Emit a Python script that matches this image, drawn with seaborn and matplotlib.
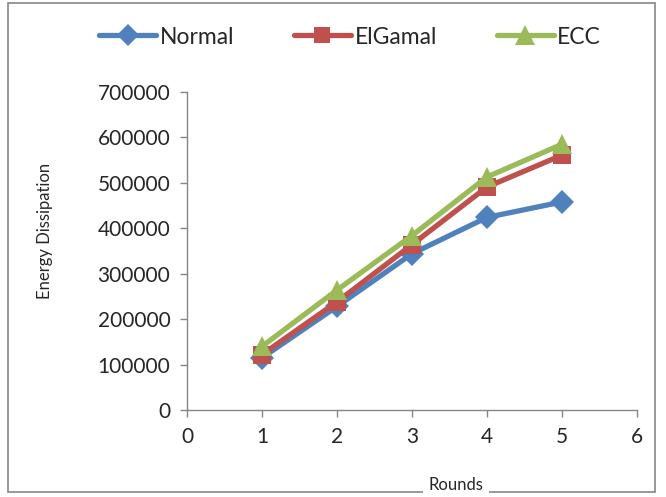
import matplotlib
matplotlib.use("Agg")
import matplotlib.pyplot as plt
import seaborn as sns
import pandas as pd
from matplotlib.patches import Rectangle
from matplotlib.lines import Line2D

rounds = [1, 2, 3, 4, 5]
normal = [115000, 228000, 344000, 424000, 458000]
elgamal = [122000, 238000, 364000, 491000, 561000]
ecc = [140000, 264000, 384000, 513000, 585000]
series_names = ["Normal", "ElGamal", "ECC"]
colors = ["#4F81BD", "#C0504D", "#9BBB59"]
markers = ["D", "s", "^"]
msizes = [12, 12.5, 15]
yticks = [0, 100000, 200000, 300000, 400000, 500000, 600000, 700000]
xticks = [0, 1, 2, 3, 4, 5, 6]

df = pd.DataFrame({
    "Rounds": rounds * 3,
    "Energy": normal + elgamal + ecc,
    "Series": sum([[n] * len(rounds) for n in series_names], []),
})

sns.set_style("white")
plt.rcParams["font.family"] = ["Lato", "DejaVu Sans"]

fig = plt.figure(figsize=(6.66, 4.97), dpi=100)
ax = fig.add_axes([187 / 666, 1 - 410 / 497, 450 / 666, 318 / 497])

for name, c, m, ms in zip(series_names, colors, markers, msizes):
    sns.lineplot(data=df[df["Series"] == name], x="Rounds", y="Energy",
                 color=c, marker=m, linewidth=3.8, markersize=ms,
                 markeredgewidth=0, ax=ax, legend=False)

ax.set_xlim(0, 6)
ax.set_ylim(0, 700000)
ax.set_xticks(xticks)
ax.set_yticks(yticks)
ax.set_xticklabels([str(t) for t in xticks], fontsize=15)
ax.set_yticklabels([str(t) for t in yticks], fontsize=15)
for s in ["top", "right"]:
    ax.spines[s].set_visible(False)
for s in ["left", "bottom"]:
    ax.spines[s].set_color("#868686")
    ax.spines[s].set_linewidth(1)
ax.tick_params(axis="both", direction="out", length=5, color="#868686",
               width=1, left=True, bottom=True, pad=7)
ax.set_xlabel("")
ax.set_ylabel("")

fig.text(45 / 666, 1 - 231 / 497, "Energy Dissipation", rotation=90,
         ha="center", va="center", fontsize=12)
fig.text(456 / 666, 1 - 485 / 497, "Rounds", ha="center", va="center",
         fontsize=12, bbox=dict(facecolor="white", edgecolor="none", pad=4),
         zorder=5)

fig.patches.append(Rectangle((8 / 666, 1 - 492 / 497), 647 / 666, 489 / 497,
                             transform=fig.transFigure, fill=False,
                             edgecolor="#868686", linewidth=1.2, zorder=1))

handles = [Line2D([0], [0], color=c, marker=m, linewidth=3.8, markersize=ms - 1,
                  markeredgewidth=0) for c, m, ms in zip(colors, markers, msizes)]
fig.legend(handles, series_names, loc="center", ncol=3,
           bbox_to_anchor=(350 / 666, 1 - 37 / 497), frameon=False,
           fontsize=16.5, handlelength=2.5, handletextpad=0.15,
           columnspacing=2.6)

fig.savefig("out.png", dpi=100)
